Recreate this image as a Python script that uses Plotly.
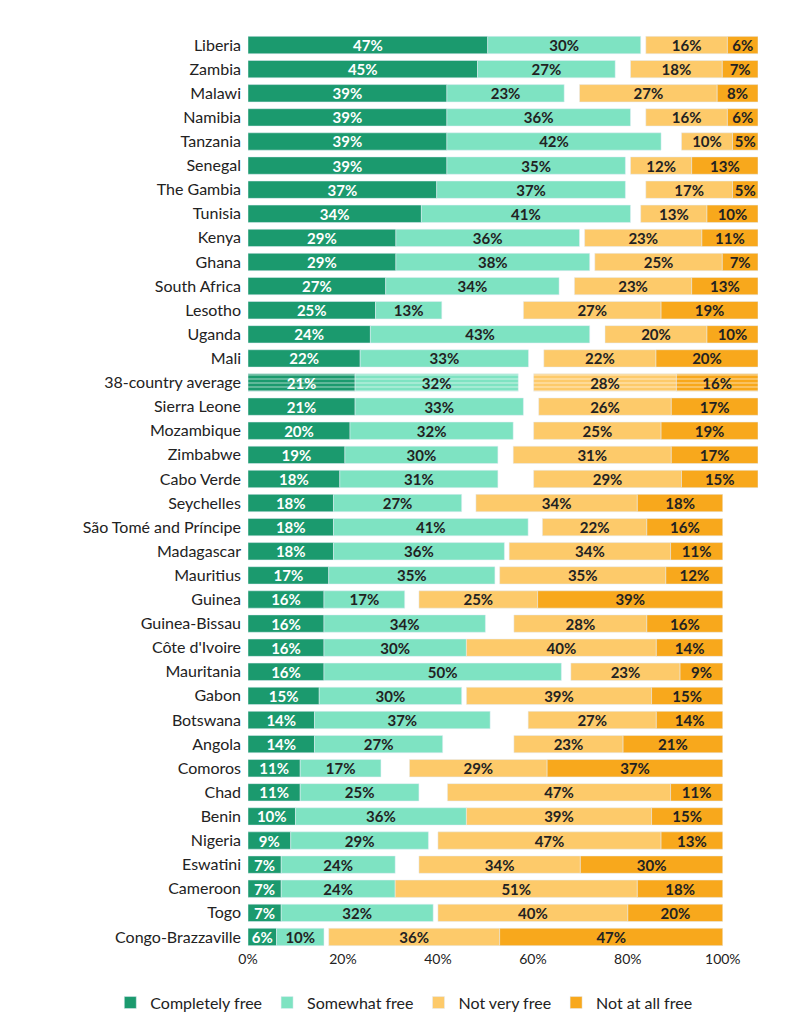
import plotly.graph_objects as go

countries = ["Liberia", "Zambia", "Malawi", "Namibia", "Tanzania", "Senegal", "The Gambia",
             "Tunisia", "Kenya", "Ghana", "South Africa", "Lesotho", "Uganda", "Mali",
             "38-country average", "Sierra Leone", "Mozambique", "Zimbabwe", "Cabo Verde",
             "Seychelles", "São Tomé and Príncipe", "Madagascar", "Mauritius", "Guinea",
             "Guinea-Bissau", "Côte d'Ivoire", "Mauritania", "Gabon", "Botswana", "Angola",
             "Comoros", "Chad", "Benin", "Nigeria", "Eswatini", "Cameroon", "Togo",
             "Congo-Brazzaville"]
completely = [47, 45, 39, 39, 39, 39, 37, 34, 29, 29, 27, 25, 24, 22, 21, 21, 20, 19, 18,
              18, 18, 18, 17, 16, 16, 16, 16, 15, 14, 14, 11, 11, 10, 9, 7, 7, 7, 6]
somewhat = [30, 27, 23, 36, 42, 35, 37, 41, 36, 38, 34, 13, 43, 33, 32, 33, 32, 30, 31,
            27, 41, 36, 35, 17, 34, 30, 50, 30, 37, 27, 17, 25, 36, 29, 24, 24, 32, 10]
not_very = [16, 18, 27, 16, 10, 12, 17, 13, 23, 25, 23, 27, 20, 22, 28, 26, 25, 31, 29,
            34, 22, 34, 35, 25, 28, 40, 23, 39, 27, 23, 29, 47, 39, 47, 34, 51, 40, 36]
not_at_all = [6, 7, 8, 6, 5, 13, 5, 10, 11, 7, 13, 19, 10, 20, 16, 17, 19, 17, 15,
              18, 16, 11, 12, 39, 16, 14, 9, 15, 14, 21, 37, 11, 15, 13, 30, 18, 20, 47]
tick_vals = [0, 20, 40, 60, 80, 100]

colors = ["#1b9a6e", "#7ee3c2", "#fdca6a", "#f8a81c"]
names = ["Completely free", "Somewhat free", "Not very free", "Not at all free"]

fig = go.Figure()
halves = [(0, 19, "x2", "y2"), (19, 38, "x", "y")]
for lo, hi, xa, ya in halves:
    cs = countries[lo:hi]
    c1, c2, c3, c4 = (completely[lo:hi], somewhat[lo:hi], not_very[lo:hi], not_at_all[lo:hi])
    patt = ["-" if c == "38-country average" else "" for c in cs]
    series = [
        (c1, [0] * len(cs)),
        (c2, c1),
        (c3, [100 - a - b for a, b in zip(c3, c4)]),
        (c4, [100 - b for b in c4]),
    ]
    for i, (vals, base) in enumerate(series):
        fig.add_trace(go.Bar(
            y=cs, x=vals, base=base, orientation="h", name=names[i],
            marker=dict(color=colors[i], pattern=dict(shape=patt, fgcolor="white", size=4, solidity=0.3)),
            text=[f"{v}%" for v in vals], textposition="inside", insidetextanchor="middle",
            textfont=dict(color="white" if i == 0 else "#222", size=15, family="Lato", weight="bold"),
            width=0.72, showlegend=(xa == "x"), xaxis=xa, yaxis=ya,
        ))

fig.update_layout(
    width=794, height=1024, barmode="overlay", plot_bgcolor="white", paper_bgcolor="white",
    margin=dict(l=240, r=44, t=25, b=69),
    font=dict(family="Lato", size=16, color="#222"),
    xaxis=dict(domain=[0, 0.931], range=[0, 100], tickmode="array", tickvals=tick_vals,
               ticktext=[f"{v}%" for v in tick_vals], automargin=False,
               showgrid=False, zeroline=False, anchor="y", tickfont=dict(size=14)),
    yaxis=dict(domain=[0, 0.5], autorange="reversed", anchor="x", ticks="",
               ticklabelstandoff=6, automargin=False),
    xaxis2=dict(domain=[0, 1], range=[0, 100], visible=False, anchor="y2", automargin=False),
    yaxis2=dict(domain=[0.5, 1], autorange="reversed", anchor="x2", ticks="",
                ticklabelstandoff=6, automargin=False),
    legend=dict(orientation="h", x=-0.27, y=-0.04, xanchor="left", yanchor="top",
                font=dict(size=16), traceorder="normal"),
    uniformtext=dict(minsize=10, mode="show"),
)

fig.write_html("out.html")
